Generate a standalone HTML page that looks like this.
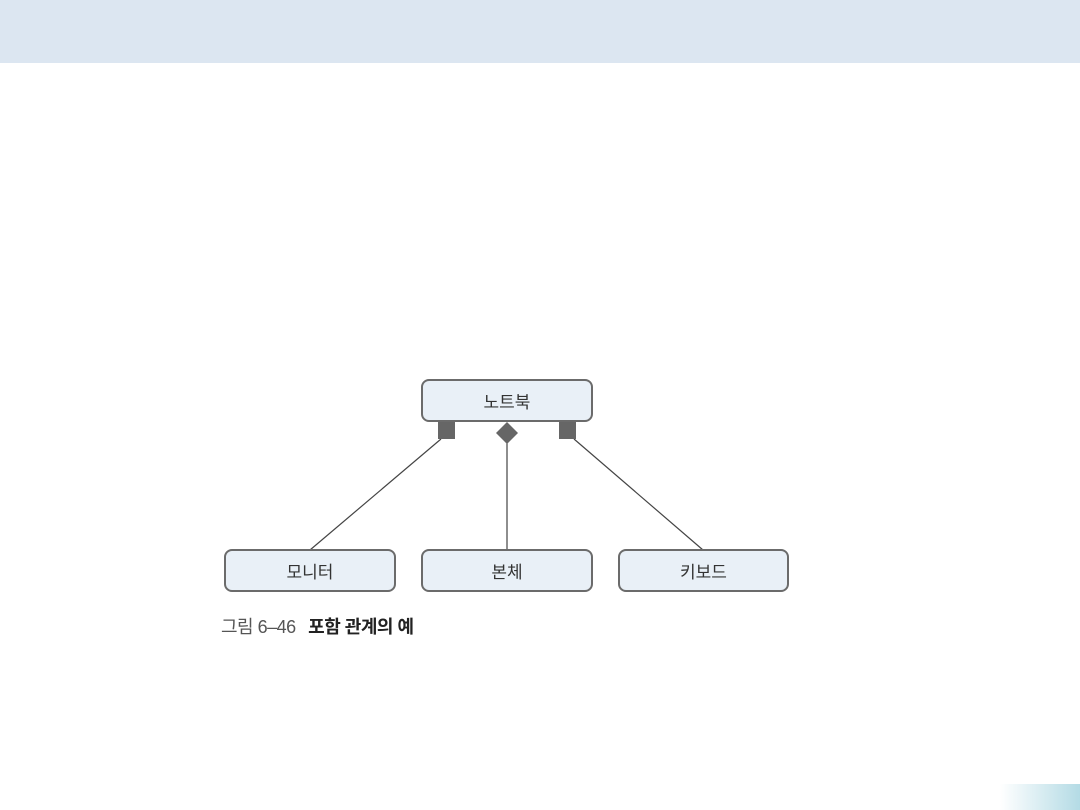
<!DOCTYPE html>
<html><head><meta charset="utf-8"><style>
body{margin:0;width:1080px;height:810px;position:relative;background:#fff;overflow:hidden;font-family:"Liberation Sans","Noto Sans CJK KR",sans-serif}
.hdr{position:absolute;left:0;top:0;width:1080px;height:63px;background:#dce6f1}
.grad{position:absolute;left:1000px;top:784px;width:80px;height:26px;background:linear-gradient(to right,#fff,#b4dbe5)}
.box{position:absolute;height:40px;border:2px solid #6b6b6b;border-radius:8px;background:#e9f0f7;box-sizing:border-box;display:flex;align-items:center;justify-content:center;font-size:17px;color:#333}
.cap{position:absolute;left:221px;top:613px;font-size:18px;color:#555;white-space:nowrap;letter-spacing:-0.5px}
.cap b{color:#222;margin-left:8px}
</style></head><body>
<div class="hdr"></div>
<div class="grad"></div>
<svg width="1080" height="810" style="position:absolute;left:0;top:0">
<g stroke="#444" stroke-width="1.2">
<line x1="441" y1="439" x2="310" y2="550"/>
<line x1="507" y1="443" x2="507" y2="550"/>
<line x1="574" y1="439" x2="703" y2="550"/>
</g>
<g fill="#666">
<rect x="438" y="421" width="17" height="18"/>
<rect x="559" y="421" width="17" height="18"/>
<polygon points="507,422 518,433 507,444 496,433"/>
</g>
</svg>
<div class="box" style="left:421px;top:379px;width:172px;height:43px">노트북</div>
<div class="box" style="left:224px;top:549px;width:172px;height:43px">모니터</div>
<div class="box" style="left:421px;top:549px;width:172px;height:43px">본체</div>
<div class="box" style="left:618px;top:549px;width:171px;height:43px">키보드</div>
<div class="cap">그림 6–46 <b>포함 관계의 예</b></div>
</body></html>
